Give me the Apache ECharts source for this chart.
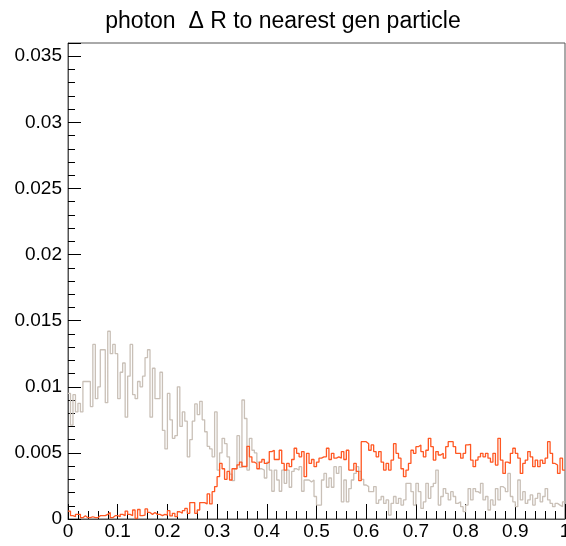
<!DOCTYPE html>
<html>
<head>
<meta charset="utf-8">
<script src="https://cdn.jsdelivr.net/npm/echarts@6/dist/echarts.min.js"></script>
<style>html,body{margin:0;padding:0;background:#fff}#c{width:566px;height:546px}</style>
</head>
<body>
<div id="c"></div>
<script>
// Histogram definition
const nBins = 200;
const xMin = 0;
const xMax = 1;
const titleText = "photon  \u0394 R to nearest gen particle";
const xTickLabels = ["0","0.1","0.2","0.3","0.4","0.5","0.6","0.7","0.8","0.9","1"];
const yTickLabels = ["0","0.005","0.01","0.015","0.02","0.025","0.03","0.035"];

// Bin contents (gray / beige histogram)
const grayValues = [
0.0095,0.0071,0.0094,0.0081,0.00875,0.0081,0.0104,0.0104,0.0104,0.0085,
0.0132,0.0091,0.0100,0.0128,0.0128,0.0088,0.0142,0.0125,0.0132,0.0125,
0.0091,0.0111,0.0118,0.0077,0.0108,0.0132,0.0094,0.0091,0.0104,0.0100,
0.0108,0.0122,0.0128,0.0077,0.0114,0.0091,0.0091,0.0111,0.0067,0.0053,
0.0095,0.0075,0.0061,0.0063,0.0100,0.0070,0.0081,0.0074,0.0047,0.0060,
0.0074,0.0087,0.0079,0.0089,0.0075,0.0066,0.0055,0.0053,0.0047,0.0081,
0.0037,0.0050,0.0061,0.0057,0.0047,0.0034,0.0029,0.0038,0.0063,0.0039,
0.0090,0.0076,0.0037,0.0061,0.0052,0.0050,0.0043,0.0038,0.0037,0.0031,
0.0043,0.0037,0.0021,0.0037,0.00295,0.0021,0.0037,0.0027,0.0037,0.0024,
0.0036,0.0038,0.0037,0.00396,0.0021,0.00295,0.00295,0.0028,0.00295,0.0017,
0.00105,0.00105,0.00295,0.00345,0.0024,0.0031,0.0024,0.00396,0.00345,0.00396,
0.0013,0.00295,0.0013,0.0023,0.00295,0.00345,0.00396,0.0036,0.0030,0.00257,
0.00245,0.00207,0.00207,0.00245,0.00118,0.00144,0.0017,0.00118,0.00144,0.0003,
0.00118,0.0017,0.00118,0.00156,0.00105,0.00144,0.0027,0.0027,0.00207,0.00105,
0.0027,0.00207,0.0008,0.0013,0.0027,0.00156,0.00245,0.0027,0.0037,0.00105,
0.0017,0.0023,0.00194,0.00144,0.00207,0.0017,0.00118,0.0013,0.00093,0.00056,
0.00105,0.0023,0.00144,0.0023,0.00207,0.00194,0.0027,0.00144,0.0017,0.00068,
0.00144,0.00105,0.0023,0.00144,0.00245,0.0023,0.00207,0.00345,0.0017,0.0013,
0.00093,0.00295,0.00144,0.00207,0.00118,0.00144,0.00182,0.00105,0.00156,0.00194,
0.0013,0.0017,0.0023,0.00144,0.00118,0.00093,0.00118,0.00105,0.00093,0.0013
];

// Bin contents (orange histogram)
const orangeValues = [
0.0006,0.00025,0.00017,0.00035,0.00035,0.0001,0.00025,0.0001,0.0001,0.00017,
0.0001,0.0001,0.00025,0.00025,0.00025,0.00035,0.0005,0.0001,0.00025,0.00025,
0.00017,0.00035,0.00025,0.0006,0.00035,0.00025,0.00068,0.00005,0.00072,0.00025,
0.0003,0.00076,0.0005,0.00035,0.0005,0.00035,0.00035,0.00025,0.00035,0.0003,
0.00063,0.00023,0.00043,0.00018,0.00055,0.00043,0.00063,0.0008,0.00043,0.00124,
0.00124,0.00043,0.00068,0.00124,0.00124,0.00114,0.0019,0.00114,0.00207,0.00245,
0.0032,0.0042,0.0038,0.0030,0.0036,0.00295,0.0038,0.0038,0.0041,0.0043,
0.00397,0.00397,0.0055,0.0047,0.0043,0.0042,0.0038,0.0043,0.0045,0.0042,
0.0043,0.0051,0.0052,0.0045,0.0045,0.0052,0.0042,0.0037,0.0042,0.00396,
0.0045,0.00535,0.00497,0.0047,0.0051,0.0032,0.00497,0.0042,0.0045,0.00396,
0.0043,0.0046,0.0047,0.0047,0.00535,0.0045,0.00497,0.0046,0.0047,0.0046,
0.0051,0.0045,0.0052,0.0037,0.0037,0.0042,0.0036,0.0029,0.00585,0.00585,
0.0057,0.0052,0.0056,0.0051,0.0047,0.0051,0.0043,0.0037,0.0042,0.0037,
0.00446,0.0057,0.00497,0.0046,0.0038,0.0032,0.0037,0.0042,0.0052,0.00497,
0.00547,0.0056,0.0051,0.0047,0.0052,0.0061,0.00547,0.00446,0.0051,0.00484,
0.00497,0.0046,0.00547,0.00585,0.00585,0.00547,0.00497,0.00497,0.0046,0.00497,
0.0056,0.00565,0.00446,0.00396,0.00446,0.0047,0.00497,0.0047,0.00497,0.0046,
0.0043,0.00497,0.00408,0.0061,0.00446,0.00345,0.0043,0.0042,0.00497,0.00535,
0.00497,0.0046,0.00345,0.0042,0.00446,0.0051,0.0047,0.00396,0.00446,0.00396,
0.00446,0.0042,0.0046,0.00585,0.00497,0.0042,0.00408,0.00345,0.0046,0.0037
];

const grayColor = "#c9c0b7";
const orangeColor = "#ff5722";
const fontFam = "'Liberation Sans', Arial, Helvetica, sans-serif";

function toSteps(vals) {
  const w = (xMax - xMin) / nBins;
  const pts = vals.map((v, i) => [xMin + i * w, v]);
  pts.push([xMax, vals[vals.length - 1]]);
  return pts;
}

const chart = echarts.init(document.getElementById('c'), null, {renderer: 'canvas'});
chart.setOption({
  animation: false,
  backgroundColor: '#ffffff',
  title: {
    text: titleText,
    left: 'center',
    top: 5,
    textStyle: {fontFamily: fontFam, fontSize: 23, fontWeight: 'normal', color: '#000'}
  },
  grid: {left: 68, right: 1, top: 43, bottom: 27, show: true, borderColor: '#555', borderWidth: 1,
         backgroundColor: 'transparent', containLabel: false, outerBoundsMode: 'none'},
  xAxis: {
    type: 'value', min: xMin, max: xMax, interval: 0.1,
    axisLine: {show: true, onZero: false, lineStyle: {color: '#555', width: 1}},
    axisTick: {show: true, inside: true, length: 15, lineStyle: {color: '#000'}},
    minorTick: {show: true, splitNumber: 5, length: 8, lineStyle: {color: '#000'}},
    splitLine: {show: false},
    axisLabel: {
      margin: 3, fontFamily: fontFam, fontSize: 19, color: '#000', hideOverlap: false,
      formatter: (v) => xTickLabels[Math.round(v * 10)]
    }
  },
  yAxis: {
    type: 'value', min: 0, max: 0.036, interval: 0.005,
    axisLine: {show: true, lineStyle: {color: '#555', width: 1}},
    axisTick: {show: true, inside: true, length: 13, lineStyle: {color: '#000'}},
    minorTick: {show: true, splitNumber: 5, length: 7, lineStyle: {color: '#000'}},
    splitLine: {show: false},
    axisLabel: {
      margin: 6, fontFamily: fontFam, fontSize: 19, color: '#000',
      showMaxLabel: false,
      formatter: (v) => { const k = Math.round(v / 0.005); return (Math.abs(v - k * 0.005) < 1e-9 && k < yTickLabels.length) ? yTickLabels[k] : ''; }
    }
  },
  series: [
    {type: 'line', step: 'end', data: toSteps(grayValues), showSymbol: false, symbol: 'none',
     lineStyle: {color: grayColor, width: 1.3}, clip: true, z: 2},
    {type: 'line', step: 'end', data: toSteps(orangeValues), showSymbol: false, symbol: 'none',
     lineStyle: {color: orangeColor, width: 1.3}, clip: true, z: 3}
  ]
});
</script>
</body>
</html>
